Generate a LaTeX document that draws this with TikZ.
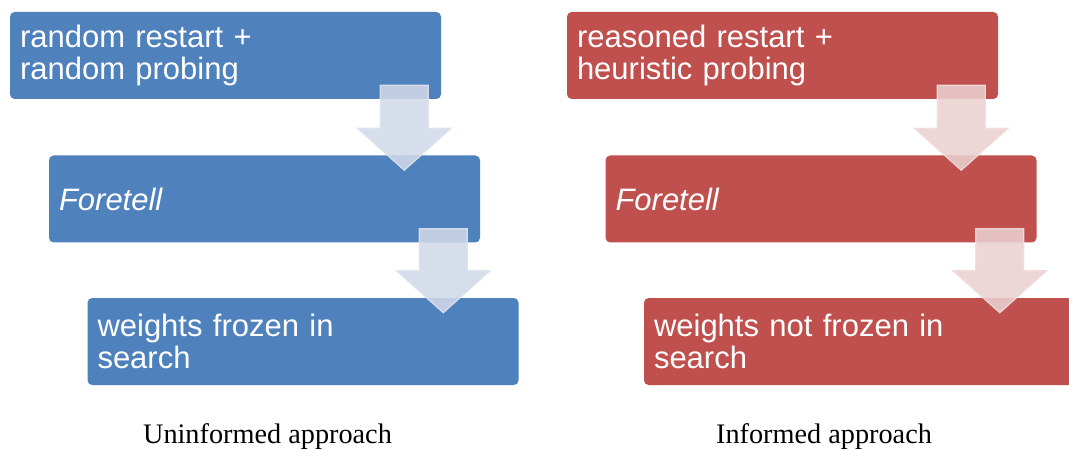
\documentclass[tikz,border=0pt]{standalone}
\usepackage{fontspec}
\setmainfont{Liberation Serif}
\newfontfamily\boxfont{Liberation Sans}
\usetikzlibrary{calc}

\begin{document}
\begin{tikzpicture}[x=0.75pt,y=0.75pt,
  stepbox/.style={rectangle,rounded corners=3.5pt,minimum height=65.25pt,
    text width=308.25pt,inner xsep=7.5pt,inner ysep=0pt,align=left,text=white,
    font=\boxfont\fontsize{23.25}{24}\selectfont},
  bluebox/.style={stepbox,fill=uninf},
  redbox/.style={stepbox,fill=inf},
  bluearrow/.style={fill=uninfarrow,draw=uninfedge,line width=0.9pt,fill opacity=0.88,draw opacity=0.9},
  redarrow/.style={fill=infarrow,draw=infedge,line width=0.9pt,fill opacity=0.88,draw opacity=0.9},
  caption/.style={anchor=base,font=\fontsize{21.2}{24}\selectfont}]
% Define colours
\definecolor{uninf}{RGB}{79,129,189}
\definecolor{inf}{RGB}{192,80,77}
\definecolor{uninfarrow}{RGB}{208,216,232}
\definecolor{uninfedge}{RGB}{222,228,239}
\definecolor{infarrow}{RGB}{234,208,208}
\definecolor{infedge}{RGB}{241,222,222}

\useasboundingbox (0,0) rectangle (1069,450);

% Uninformed side
\node[bluebox] (l1) at (225.5,394.5) {random restart +\\random probing};
\node[bluebox] (l2) at (264.5,251) {\itshape Foretell};
\node[bluebox] (l3) at (303,108.5) {weights frozen in\\search};

% Informed side
\node[redbox] (r1) at (782.5,394.5) {reasoned restart +\\heuristic probing};
\node[redbox] (r2) at (821,251) {\itshape Foretell};
\node[redbox] (r3) at (859.5,108.5) {weights not frozen in\\search};

% Draw block arrows
\foreach \a/\b/\c in {l1/l2/bluearrow, l2/l3/bluearrow, r1/r2/redarrow, r2/r3/redarrow} {
  \coordinate (s) at ($(\a.south east)+(-37,14)$);
  \coordinate (t) at ($(s |- \b.north)+(0,-15)$);
  \draw[\c] ($(s)+(-24,0)$) -- ($(s)+(24,0)$) -- ($(t)+(24,42)$) -- ($(t)+(47,42)$)
    -- (t) -- ($(t)+(-47,42)$) -- ($(t)+(-24,42)$) -- cycle;
}

% Add captions
\node[caption] (capl) at (267.5,7) {Uninformed approach};
\node[caption] (capr) at (824,7) {Informed approach};
\end{tikzpicture}
\end{document}
